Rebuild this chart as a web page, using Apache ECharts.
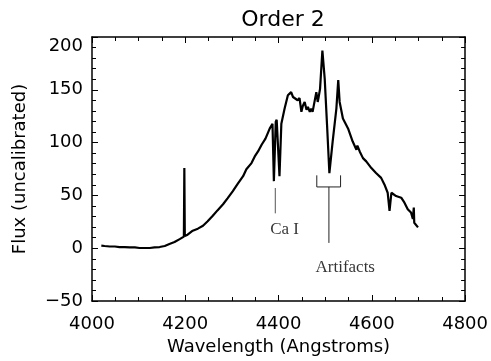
<!DOCTYPE html>
<html>
<head>
<meta charset="utf-8">
<script src="https://cdn.jsdelivr.net/npm/echarts@6/dist/echarts.min.js"></script>
<style>html,body{margin:0;padding:0;background:#fff}#c{width:491px;height:361px}</style>
</head>
<body>
<div id="c"></div>
<script>
var wavelength = [
  4020,4027,4038,4049,4059,4070,4081,4092,4102,4113,
  4124,4134,4145,4156,4166,4177,4188,4197,4198,4199,
  4205,4216,4227,4238,4248,4259,4269,4281,4291,4302,
  4312,4324,4331,4342,4349,4356,4364,4372,4381,4387,
  4390,4394,4396,4402,4406,4413,4420,4427,4431,4434,
  4441,4445,4449,4452,4456,4460,4463,4467,4470,4473,
  4477,4481,4484,4486,4489,4494,4499,4504,4509,4516,
  4524,4528,4531,4538,4549,4559,4567,4569,4574,4581,
  4588,4599,4609,4620,4627,4634,4638,4642,4652,4663,
  4670,4677,4684,4688,4690,4691,4695,4699
];
var flux = [
  2.5,2.1,1.6,1.6,1.1,1.1,0.7,0.7,0.2,0.2,
  0.2,0.7,1.1,2.1,3.9,5.8,8.6,11.0,76,11.5,
  12.8,16.6,18.5,21.3,25.5,30.7,35.8,41.6,47.5,54.1,
  60.7,68.2,74.7,80.6,86.9,91.6,98.2,103.8,113.2,117.8,
  63.5,119.7,121.6,68.2,117.8,132.2,144.8,147.8,143.2,145.0,
  140.1,142.2,129.1,134.7,138.5,131.0,133.8,129.1,132.2,129.1,
  127.5,147.8,138.5,143.2,150.9,187.2,160.3,116.6,71.0,101.0,
  132.2,159.1,138.5,122.8,113.4,101.0,93.2,97.2,91.6,85.3,
  82.2,75.9,71.2,66.6,60.4,52.5,35.3,52.5,49.4,47.8,
  43.1,36.9,33.8,27.6,38.4,24.1,22.9,19.7
];
var xTicks = [4000, 4200, 4400, 4600, 4800];
var yTicks = [-50, 0, 50, 100, 150, 200];
var caILine = [[4393, 57], [4393, 33]];
var artifactsBracket = [[4482, 69], [4482, 58], [4533, 58], [4533, 69]];
var artifactsStem = [[4508, 58], [4508, 5]];
var annotationLabels = [[4413, 18, 'Ca I'], [4543, -18, 'Artifacts']];

var spectrum = wavelength.map(function (w, i) { return [w, flux[i]]; });
var font = 'DejaVu Sans';
var fw = 'normal';
var axisColor = '#000';

function xAxisDef(pos, showLabel) {
  return {
    type: 'value', position: pos, min: xTicks[0], max: xTicks[xTicks.length - 1],
    interval: xTicks[1] - xTicks[0],
    name: showLabel ? 'Wavelength (Angstroms)' : '', nameLocation: 'middle', nameGap: 29,
    nameTextStyle: { fontFamily: font, fontWeight: fw, fontSize: 18, color: '#000' },
    axisLine: { show: true, onZero: false, lineStyle: { color: axisColor, width: 1.5 } },
    axisTick: { show: true, inside: true, length: 6, lineStyle: { color: axisColor, width: 1 } },
    minorTick: { show: true, splitNumber: 4, length: 4, lineStyle: { color: axisColor, width: 1 } },
    axisLabel: {
      show: showLabel, fontFamily: font, fontWeight: fw, fontSize: 18, color: '#000', margin: 14,
      formatter: function (v) { return String(v); }
    },
    splitLine: { show: false }
  };
}
function yAxisDef(pos, showLabel) {
  return {
    type: 'value', position: pos, min: yTicks[0], max: yTicks[yTicks.length - 1],
    interval: yTicks[1] - yTicks[0],
    name: showLabel ? 'Flux (uncalibrated)' : '', nameLocation: 'middle', nameGap: 63,
    nameTextStyle: { fontFamily: font, fontWeight: fw, fontSize: 18, color: '#000' },
    axisLine: { show: true, onZero: false, lineStyle: { color: axisColor, width: 1.5 } },
    axisTick: { show: true, inside: true, length: 6, lineStyle: { color: axisColor, width: 1 } },
    minorTick: { show: true, splitNumber: 5, length: 4, lineStyle: { color: axisColor, width: 1 } },
    axisLabel: {
      show: showLabel, fontFamily: font, fontWeight: fw, fontSize: 18, color: '#000', margin: 9,
      verticalAlignMaxLabel: 'top',
      formatter: function (v) { return String(v).replace('-', '\u2212'); }
    },
    splitLine: { show: false }
  };
}

var chart = echarts.init(document.getElementById('c'), null, { renderer: 'canvas' });
chart.setOption({
  animation: false,
  backgroundColor: '#fff',
  title: {
    text: 'Order 2', left: 278, top: 4, textAlign: 'center',
    textStyle: { fontFamily: font, fontSize: 22, fontWeight: fw, color: '#000' }
  },
  grid: { left: 92, right: 25, top: 37, bottom: 60, containLabel: false },
  xAxis: [xAxisDef('bottom', true), xAxisDef('top', false)],
  yAxis: [yAxisDef('left', true), yAxisDef('right', false)],
  series: [
    {
      type: 'line', data: spectrum, showSymbol: false, symbol: 'none',
      lineStyle: { color: '#000', width: 2.2 }, silent: true, z: 3
    },
    {
      type: 'line', data: caILine, symbol: 'none',
      lineStyle: { color: '#555', width: 1 }, silent: true
    },
    {
      type: 'line', data: artifactsBracket, symbol: 'none',
      lineStyle: { color: '#222', width: 1 }, silent: true
    },
    {
      type: 'line', data: artifactsStem, symbol: 'none',
      lineStyle: { color: '#222', width: 1 }, silent: true
    },
    {
      type: 'scatter', symbolSize: 0, silent: true,
      data: annotationLabels.map(function (a) { return { value: [a[0], a[1]], name: a[2] }; }),
      label: {
        show: true, position: 'inside', formatter: '{b}',
        fontFamily: 'Liberation Serif', fontSize: 17, color: '#000'
      }
    }
  ]
});
</script>
</body>
</html>
